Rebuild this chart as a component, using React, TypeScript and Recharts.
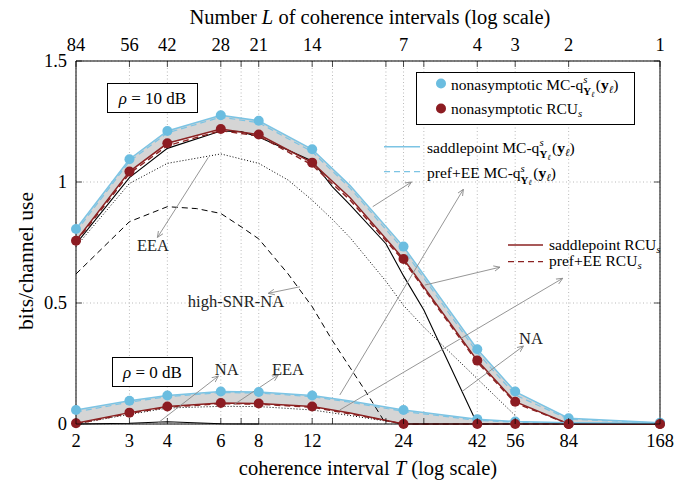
import React from 'react';
import {
  ComposedChart,
  Line,
  Area,
  XAxis,
  YAxis,
  CartesianGrid,
  ReferenceLine,
} from 'recharts';

const FONT = '"Liberation Serif", "Times New Roman", serif';

// ---------- axes ----------
const T_TOTAL = 168; // L = 168 / T
const T_GRID = [2, 3, 4, 6, 7, 8, 12, 14, 21, 24, 28, 42, 56, 84, 168];
const T_LABELS = [2, 3, 4, 6, 8, 12, 24, 42, 56, 84, 168];
const Y_TICKS = [0, 0.5, 1, 1.5];

// ---------- data: rho = 10 dB ----------
const T_POINTS = [2, 3, 4, 6, 8, 12, 24, 42, 56, 84, 168];
const MC_NONASYM_10 = [0.806, 1.094, 1.211, 1.276, 1.253, 1.135, 0.733, 0.309, 0.134, 0.024, 0.005];
const RCU_NONASYM_10 = [0.757, 1.043, 1.16, 1.219, 1.196, 1.08, 0.682, 0.262, 0.092, 0, 0];

const T_SADDLE = [2, 3, 4, 6, 8, 12, 16, 24, 42, 56, 84, 168];
const MC_SADDLE_10 = [0.806, 1.094, 1.211, 1.276, 1.253, 1.135, 0.985, 0.733, 0.309, 0.134, 0.024, 0.005];
const MC_PREF_10 = [0.795, 1.085, 1.203, 1.268, 1.245, 1.125, 0.975, 0.72, 0.295, 0.12, 0.02, 0.004];
const RCU_SADDLE_10 = [0.757, 1.043, 1.16, 1.219, 1.196, 1.08, 0.935, 0.682, 0.262, 0.092, 0, 0];
const RCU_PREF_10 = [0.752, 1.035, 1.15, 1.212, 1.19, 1.07, 0.925, 0.675, 0.255, 0.087, 0, 0];

const T_NA_10 = [2, 3, 4, 6, 7, 8, 12, 14, 16, 21, 24, 28, 42];
const NA_10 = [0.744, 1.018, 1.139, 1.211, 1.208, 1.186, 1.087, 0.98, 0.905, 0.745, 0.612, 0.471, 0];
const T_EEA_10 = [2, 3, 4, 6, 8, 10, 12, 14, 16, 21, 24, 28, 42, 56];
const EEA_10 = [0.733, 0.994, 1.077, 1.116, 1.077, 1.008, 0.925, 0.845, 0.77, 0.59, 0.49, 0.4, 0.187, 0.035];
const T_HSNR_10 = [2, 3, 4, 5, 6, 7, 8, 10, 12, 14, 16, 18, 21];
const HSNR_NA_10 = [0.62, 0.836, 0.898, 0.89, 0.87, 0.815, 0.765, 0.62, 0.485, 0.344, 0.233, 0.135, 0];

// ---------- data: rho = 0 dB ----------
const MC_NONASYM_0 = [0.058, 0.096, 0.118, 0.134, 0.132, 0.118, 0.058, 0.02, 0.01, 0.005, 0.003];
const RCU_NONASYM_0 = [0.003, 0.047, 0.072, 0.087, 0.085, 0.072, 0, 0, 0, 0, 0];
const MC_SADDLE_0 = [0.058, 0.096, 0.118, 0.134, 0.132, 0.118, 0.095, 0.058, 0.02, 0.01, 0.005, 0.003];
const MC_PREF_0 = [0.05, 0.09, 0.113, 0.13, 0.128, 0.113, 0.09, 0.052, 0.015, 0.007, 0.003, 0.002];
const RCU_SADDLE_0 = [0.003, 0.047, 0.072, 0.087, 0.085, 0.072, 0.045, 0, 0, 0, 0, 0];
const RCU_PREF_0 = [0, 0.044, 0.069, 0.084, 0.082, 0.069, 0.042, 0, 0, 0, 0, 0];
const T_NA_0 = [2, 3, 4, 6, 8];
const NA_0 = [0, 0.003, 0.009, 0.001, 0];
const T_EEA_0 = [2, 3, 4, 6, 8, 12, 16, 21, 24];
const EEA_0 = [0, 0.04, 0.066, 0.073, 0.072, 0.058, 0.035, 0.012, 0];

// ---------- annotation arrows (data coordinates: [T, y] -> [T, y]) ----------
const ARROWS: [number, number, number, number][] = [
  [19.0, 0.898, 25.5, 1.0],
  [14.8, 0.12, 37.8, 0.97],
  [28.2, 0.574, 49.9, 0.648],
  [14.8, 0.058, 80.3, 0.602],
  [37.3, 0.133, 59.6, 0.322],
  [5.46, 1.102, 3.71, 0.771],
  [10.94, 0.567, 8.6, 0.54],
  [3.73, 0.005, 5.89, 0.198],
  [6.6, 0.0785, 9.28, 0.2025],
];

const zip = (xs: number[], ys: number[]) => xs.map((x, i) => ({ x, y: ys[i] }));
const band = (xs: number[], lo: number[], hi: number[]) =>
  xs.map((x, i) => ({ x, range: [lo[i], hi[i]] }));

// ---------- colours ----------
const BLUE_DOT = '#6bbde0';
const BLUE_LINE = '#7cc4e4';
const RED_DOT = '#8c1c22';
const RED_LINE = '#8b2222';
const BAND = '#d5d5d5';
const ARROW = '#8a8a8a';

// ---------- layout ----------
const W = 689;
const H = 477;
const PLOT = { left: 68, right: 652, top: 53, bottom: 416 };
const YAXIS_W = 60;
const YAXIS_R_W = 20;
const XAXIS_H = 30;

const TICK_FS = 18.5;
const TICK_LEN = 6;
const TXT = { fontFamily: FONT };

const BottomTick = (p: any) => {
  const v = p.payload.value;
  return (
    <g>
      <line x1={p.x} x2={p.x} y1={p.y} y2={p.y - TICK_LEN} stroke="#000" strokeWidth={0.7} />
      {T_LABELS.includes(v) && (
        <text x={p.x} y={p.y + 23} textAnchor="middle" fontSize={TICK_FS} fontFamily={FONT} style={TXT} fill="#000">
          {v}
        </text>
      )}
    </g>
  );
};

const TopTick = (p: any) => {
  const v = p.payload.value;
  return (
    <g>
      <line x1={p.x} x2={p.x} y1={p.y} y2={p.y + TICK_LEN} stroke="#000" strokeWidth={0.7} />
      {T_LABELS.includes(v) && (
        <text x={p.x} y={p.y - 10} textAnchor="middle" fontSize={TICK_FS} fontFamily={FONT} style={TXT} fill="#000">
          {Math.round(T_TOTAL / v)}
        </text>
      )}
    </g>
  );
};

const LeftTick = (p: any) => {
  const v = p.payload.value;
  return (
    <g>
      <line x1={p.x} x2={p.x + TICK_LEN} y1={p.y} y2={p.y} stroke="#000" strokeWidth={0.7} />
      <text x={p.x - 9} y={p.y + 6.3} textAnchor="end" fontSize={TICK_FS} fontFamily={FONT} style={TXT} fill="#000">
        {String(v)}
      </text>
    </g>
  );
};

const RightTick = (p: any) => (
  <line x1={p.x} x2={p.x - TICK_LEN} y1={p.y} y2={p.y} stroke="#000" strokeWidth={0.7} />
);

// ---------- legend / annotation text ----------
const LEG_FS = 15.5;
const SCR_FS = 10.8;

const McText = ({ x, y, prefix }: { x: number; y: number; prefix: string }) => (
  <text x={x} y={y} fontFamily={FONT} style={TXT} fontSize={LEG_FS} fill="#000">
    <tspan>{prefix + ' MC-q'}</tspan>
    <tspan fontStyle="italic" fontSize={SCR_FS} dy={-6.5}>s</tspan>
    <tspan fontWeight="bold" fontSize={SCR_FS} dx={-4.2} dy={12}>Y</tspan>
    <tspan fontStyle="italic" fontSize={8} dy={1.5}>ℓ</tspan>
    <tspan fontSize={LEG_FS} dx={1.5} dy={-7}>(</tspan>
    <tspan fontWeight="bold">y</tspan>
    <tspan fontStyle="italic" fontSize={SCR_FS} dy={3}>ℓ</tspan>
    <tspan dy={-3}>)</tspan>
  </text>
);

const RcuText = ({ x, y, prefix }: { x: number; y: number; prefix: string }) => (
  <text x={x} y={y} fontFamily={FONT} style={TXT} fontSize={LEG_FS} fill="#000">
    <tspan>{prefix + ' RCU'}</tspan>
    <tspan fontStyle="italic" fontSize={SCR_FS} dy={3}>s</tspan>
  </text>
);

const Note = ({ x, y, children }: { x: number; y: number; children: any }) => (
  <text x={x} y={y + 5.5} textAnchor="middle" fontFamily={FONT} style={TXT} fontSize={16.5} fill="#222">
    {children}
  </text>
);

const Overlay = () => (
  <svg
    width={W}
    height={H}
    style={{ position: 'absolute', left: 0, top: 0, overflow: 'visible', pointerEvents: 'none' }}
  >
    {/* axis titles */}
    <text x={362} y={16} textAnchor="middle" fontFamily={FONT} style={TXT} fontSize={20.5} fill="#000">
      <tspan>Number </tspan>
      <tspan fontStyle="italic">L</tspan>
      <tspan> of coherence intervals (log scale)</tspan>
    </text>
    <text x={360} y={467} textAnchor="middle" fontFamily={FONT} style={TXT} fontSize={20.5} fill="#000">
      <tspan>coherence interval </tspan>
      <tspan fontStyle="italic">T</tspan>
      <tspan> (log scale)</tspan>
    </text>
    <text
      x={0}
      y={0}
      transform="translate(24.5,253) rotate(-90)"
      textAnchor="middle"
      fontFamily={FONT}
      style={TXT}
      fontSize={21.5}
      fill="#000"
    >
      bits/channel use
    </text>

    {/* rho boxes */}
    <rect x={99.5} y={75.5} width={90} height={29} fill="#fff" stroke="#000" strokeWidth={1} />
    <text x={144.5} y={95.5} textAnchor="middle" fontFamily={FONT} style={TXT} fontSize={17} fill="#000">
      <tspan fontStyle="italic">ρ</tspan>
      <tspan> = 10 dB</tspan>
    </text>
    <rect x={104.5} y={349.5} width={80} height={29} fill="#fff" stroke="#000" strokeWidth={1} />
    <text x={144.5} y={369.5} textAnchor="middle" fontFamily={FONT} style={TXT} fontSize={17} fill="#000">
      <tspan fontStyle="italic">ρ</tspan>
      <tspan> = 0 dB</tspan>
    </text>

    {/* boxed legend */}
    <rect x={408.5} y={64.5} width={218} height={52} fill="#fff" stroke="#000" strokeWidth={1} />
    <circle cx={433} cy={75.5} r={5} fill={BLUE_DOT} />
    <McText x={443} y={81.5} prefix="nonasymptotic" />
    <circle cx={433} cy={100.5} r={5} fill={RED_DOT} />
    <RcuText x={443} y={105.5} prefix="nonasymptotic" />

    {/* line legends */}
    <line x1={376} x2={412} y1={138.7} y2={138.7} stroke={BLUE_LINE} strokeWidth={1.5} />
    <McText x={419} y={144.7} prefix="saddlepoint" />
    <line x1={376} x2={412} y1={163.7} y2={163.7} stroke={BLUE_LINE} strokeWidth={1.2} strokeDasharray="6 4" />
    <McText x={419} y={170.3} prefix="pref+EE" />
    <line x1={500} x2={535} y1={237} y2={237} stroke={RED_LINE} strokeWidth={1.5} />
    <RcuText x={541} y={241.5} prefix="saddlepoint" />
    <line x1={500} x2={535} y1={253.7} y2={253.7} stroke={RED_LINE} strokeWidth={1.3} strokeDasharray="6 4" />
    <RcuText x={541} y={258} prefix="pref+EE" />

    {/* curve annotations */}
    <Note x={145} y={237.5}>EEA</Note>
    <Note x={228} y={293}>high-SNR-NA</Note>
    <Note x={218.7} y={361.5}>NA</Note>
    <Note x={280} y={361.5}>EEA</Note>
    <Note x={523} y={330.5}>NA</Note>
  </svg>
);

const lineCommon = {
  xAxisId: 0,
  yAxisId: 0,
  dataKey: 'y',
  type: 'linear' as const,
  isAnimationActive: false,
  activeDot: false,
};

export default function App() {
  return (
    <div style={{ position: 'relative', width: W, height: H, fontFamily: FONT }}>
      <ComposedChart
        width={W}
        height={H}
        margin={{
          top: PLOT.top - XAXIS_H,
          right: W - PLOT.right - YAXIS_R_W,
          bottom: H - PLOT.bottom - XAXIS_H,
          left: PLOT.left - YAXIS_W,
        }}
      >
        <defs>
          <marker
            id="arrowhead"
            viewBox="0 0 10 10"
            refX="9"
            refY="5"
            markerWidth="7"
            markerHeight="7"
            markerUnits="userSpaceOnUse"
            orient="auto"
          >
            <path d="M0,1 L9,5 L0,9" fill="none" stroke={ARROW} strokeWidth={1.2} />
          </marker>
        </defs>
        <CartesianGrid stroke="#a8a8a8" strokeWidth={0.8} strokeDasharray="1 2.5" xAxisId={0} yAxisId={0} />
        <XAxis
          xAxisId={0}
          dataKey="x"
          type="number"
          scale="log"
          domain={[2, 168]}
          ticks={T_GRID}
          interval={0}
          height={XAXIS_H}
          tickSize={0}
          tickMargin={0}
          tickLine={false}
          tick={BottomTick}
          axisLine={{ stroke: '#000', strokeWidth: 1 }}
        />
        <XAxis
          xAxisId="top"
          orientation="top"
          dataKey="x"
          type="number"
          scale="log"
          domain={[2, 168]}
          ticks={T_GRID}
          interval={0}
          height={XAXIS_H}
          tickSize={0}
          tickMargin={0}
          tickLine={false}
          tick={TopTick}
          axisLine={{ stroke: '#000', strokeWidth: 1 }}
        />
        <YAxis
          yAxisId={0}
          type="number"
          domain={[0, 1.5]}
          ticks={Y_TICKS}
          interval={0}
          width={YAXIS_W}
          tickSize={0}
          tickMargin={0}
          tickLine={false}
          tick={LeftTick}
          axisLine={{ stroke: '#000', strokeWidth: 1 }}
        />
        <YAxis
          yAxisId="right"
          orientation="right"
          type="number"
          domain={[0, 1.5]}
          ticks={Y_TICKS}
          interval={0}
          width={YAXIS_R_W}
          tickSize={0}
          tickMargin={0}
          tickLine={false}
          tick={RightTick}
          axisLine={{ stroke: '#000', strokeWidth: 1 }}
        />

        {/* gray bands between saddlepoint curves */}
        <Area
          data={band(T_SADDLE, RCU_SADDLE_10, MC_SADDLE_10)}
          dataKey="range"
          xAxisId={0}
          yAxisId={0}
          type="linear"
          stroke="none"
          fill={BAND}
          fillOpacity={1}
          isAnimationActive={false}
          activeDot={false}
        />
        <Area
          data={band(T_SADDLE, RCU_SADDLE_0, MC_SADDLE_0)}
          dataKey="range"
          xAxisId={0}
          yAxisId={0}
          type="linear"
          stroke="none"
          fill={BAND}
          fillOpacity={1}
          isAnimationActive={false}
          activeDot={false}
        />

        {/* black approximations */}
        <Line {...lineCommon} data={zip(T_HSNR_10, HSNR_NA_10)} stroke="#000" strokeWidth={1} strokeDasharray="6 4" dot={false} />
        <Line {...lineCommon} data={zip(T_EEA_10, EEA_10)} stroke="#000" strokeWidth={1} strokeDasharray="1 2" dot={false} />
        <Line {...lineCommon} data={zip(T_NA_10, NA_10)} stroke="#000" strokeWidth={1.1} dot={false} />
        <Line {...lineCommon} data={zip(T_EEA_0, EEA_0)} stroke="#000" strokeWidth={1} strokeDasharray="1 2" dot={false} />
        <Line {...lineCommon} data={zip(T_NA_0, NA_0)} stroke="#000" strokeWidth={1.1} dot={false} />

        {/* pref+EE */}
        <Line {...lineCommon} data={zip(T_SADDLE, RCU_PREF_10)} stroke={RED_LINE} strokeWidth={1.4} strokeDasharray="6 4" dot={false} />
        <Line {...lineCommon} data={zip(T_SADDLE, RCU_PREF_0)} stroke={RED_LINE} strokeWidth={1.4} strokeDasharray="6 4" dot={false} />
        <Line {...lineCommon} data={zip(T_SADDLE, MC_PREF_10)} stroke={BLUE_LINE} strokeWidth={1.2} strokeDasharray="6 4" dot={false} />
        <Line {...lineCommon} data={zip(T_SADDLE, MC_PREF_0)} stroke={BLUE_LINE} strokeWidth={1.2} strokeDasharray="6 4" dot={false} />

        {/* saddlepoint */}
        <Line {...lineCommon} data={zip(T_SADDLE, RCU_SADDLE_10)} stroke={RED_LINE} strokeWidth={1.5} dot={false} />
        <Line {...lineCommon} data={zip(T_SADDLE, RCU_SADDLE_0)} stroke={RED_LINE} strokeWidth={1.5} dot={false} />
        <Line {...lineCommon} data={zip(T_SADDLE, MC_SADDLE_10)} stroke={BLUE_LINE} strokeWidth={1.5} dot={false} />
        <Line {...lineCommon} data={zip(T_SADDLE, MC_SADDLE_0)} stroke={BLUE_LINE} strokeWidth={1.5} dot={false} />

        {/* nonasymptotic points (the 10 dB MC points are plotted against the top/right axes, which share the same scales) */}
        <Line
          {...lineCommon}
          xAxisId="top"
          yAxisId="right"
          data={zip(T_POINTS, MC_NONASYM_10)}
          stroke="none"
          strokeWidth={0}
          dot={{ r: 5, fill: BLUE_DOT, stroke: 'none', strokeWidth: 0 }}
        />
        <Line {...lineCommon} data={zip(T_POINTS, RCU_NONASYM_10)} stroke="none" strokeWidth={0} dot={{ r: 5, fill: RED_DOT, stroke: 'none', strokeWidth: 0 }} />
        <Line {...lineCommon} data={zip(T_POINTS, MC_NONASYM_0)} stroke="none" strokeWidth={0} dot={{ r: 5, fill: BLUE_DOT, stroke: 'none', strokeWidth: 0 }} />
        <Line {...lineCommon} data={zip(T_POINTS, RCU_NONASYM_0)} stroke="none" strokeWidth={0} dot={{ r: 5, fill: RED_DOT, stroke: 'none', strokeWidth: 0 }} />

        {ARROWS.map(([x1, y1, x2, y2], i) => (
          <ReferenceLine
            key={i}
            xAxisId={0}
            yAxisId={0}
            segment={[
              { x: x1, y: y1 },
              { x: x2, y: y2 },
            ]}
            stroke={ARROW}
            strokeWidth={0.9}
            markerEnd="url(#arrowhead)"
          />
        ))}
      </ComposedChart>
      <Overlay />
    </div>
  );
}
